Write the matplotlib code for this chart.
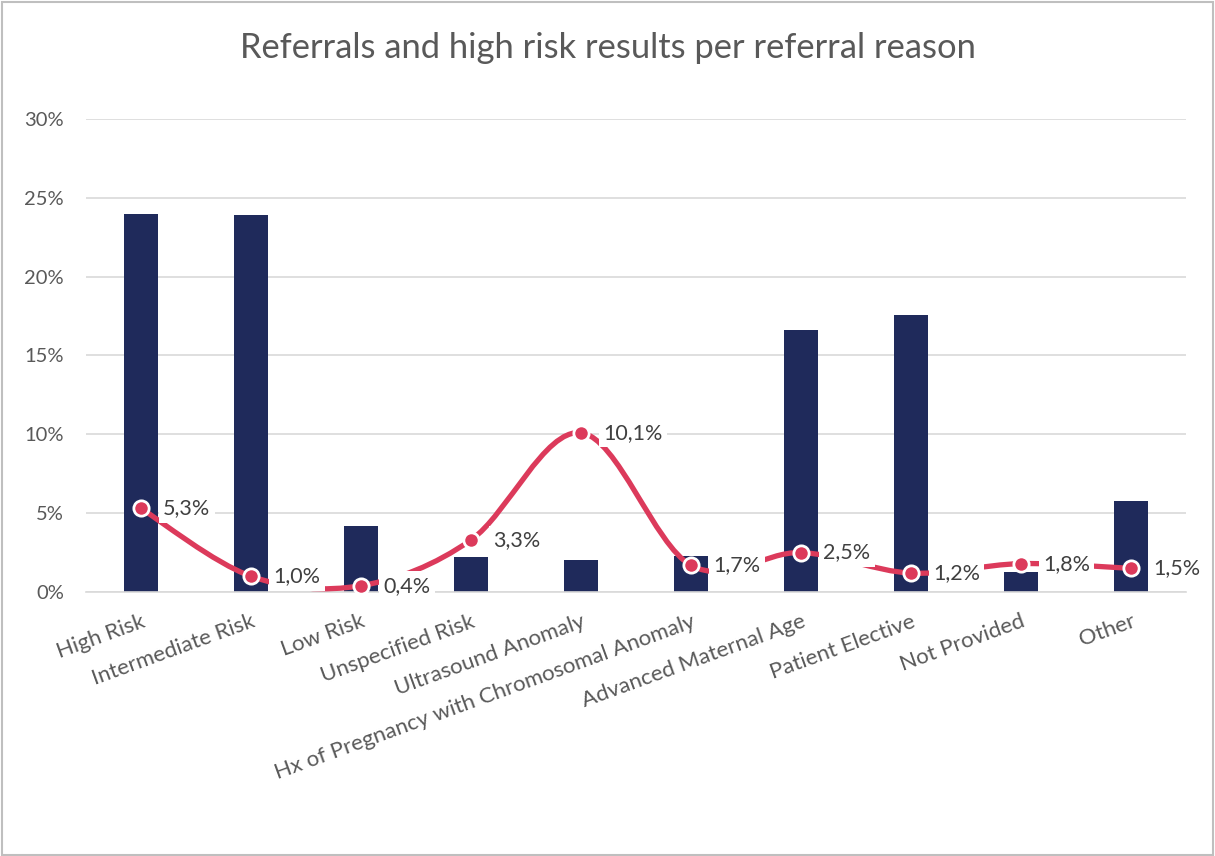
import numpy as np
import matplotlib.pyplot as plt
from matplotlib.path import Path
from matplotlib.patches import PathPatch, Rectangle
from matplotlib.ticker import FuncFormatter

plt.rcParams['font.family'] = ['Lato', 'DejaVu Sans']

categories = ['High Risk', 'Intermediate Risk', 'Low Risk', 'Unspecified Risk',
              'Ultrasound Anomaly', 'Hx of Pregnancy with Chromosomal Anomaly',
              'Advanced Maternal Age', 'Patient Elective', 'Not Provided', 'Other']
referrals = [24.0, 23.9, 4.2, 2.2, 2.0, 2.3, 16.6, 17.6, 1.3, 5.8]
high_risk = [5.3, 1.0, 0.4, 3.3, 10.1, 1.7, 2.5, 1.2, 1.8, 1.5]

BAR = '#1f2a5b'
LINE = '#dc3a5b'
TEXT = '#595959'


def smooth_path(x, y):
    """Excel-style smoothed line as cubic Bezier segments (Catmull-Rom)."""
    pts = np.column_stack([x, y]).astype(float)
    n = len(pts)
    verts = [pts[0]]
    codes = [Path.MOVETO]
    for i in range(n - 1):
        p0 = pts[i - 1] if i > 0 else pts[i]
        p1 = pts[i]
        p2 = pts[i + 1]
        p3 = pts[i + 2] if i + 2 < n else pts[i + 1]
        c1 = p1 + (p2 - p0) / 6.0
        c2 = p2 - (p3 - p1) / 6.0
        verts += [c1, c2, p2]
        codes += [Path.CURVE4] * 3
    return Path(verts, codes)


fig = plt.figure(figsize=(12.15, 8.56), dpi=100)
ax = fig.add_axes([0.0708, 0.3084, 0.9052, 0.5526])

x = np.arange(len(categories))
ax.bar(x, referrals, width=0.31, color=BAR, zorder=2)

ax.add_patch(PathPatch(smooth_path(x, high_risk), facecolor='none',
                       edgecolor=LINE, lw=3.8, capstyle='round', zorder=3))
ax.plot(x, high_risk, 'o', ms=11, mfc=LINE, mec='white', mew=2, zorder=4)

for xi, v in zip(x, high_risk):
    ax.annotate(f'{v:.1f}%'.replace('.', ','), (xi, v), xytext=(16, 0),
                textcoords='offset points', ha='left', va='center',
                fontsize=15.5, color='#404040', zorder=5,
                bbox=dict(boxstyle='square,pad=0.2', fc='white', ec='none'))

ax.set_xlim(-0.5, len(categories) - 0.5)
ax.set_ylim(0, 30)
ax.set_yticks(np.arange(0, 31, 5))
ax.yaxis.set_major_formatter(FuncFormatter(lambda v, _: f'{v:.0f}%'))
ax.set_xticks(x)
ax.set_xticklabels(categories, rotation=20, ha='right', rotation_mode='anchor')
ax.tick_params(axis='x', length=0, pad=14, labelsize=16, labelcolor=TEXT)
ax.tick_params(axis='y', length=0, pad=16, labelsize=14.5, labelcolor=TEXT)
ax.grid(axis='y', color='#d9d9d9', lw=1.2, zorder=0)
ax.set_axisbelow(True)
for s in ['top', 'right', 'left']:
    ax.spines[s].set_visible(False)
ax.spines['bottom'].set_color('#d9d9d9')
ax.spines['bottom'].set_linewidth(1.2)

fig.text(0.5, 0.944, 'Referrals and high risk results per referral reason',
         ha='center', va='center', fontsize=24.8, color=TEXT)

fig.patches.append(Rectangle((0.002, 0.001), 0.996, 0.997, transform=fig.transFigure,
                             fill=False, ec='#bfbfbf', lw=1.5))

fig.savefig('out.png', dpi=100)
